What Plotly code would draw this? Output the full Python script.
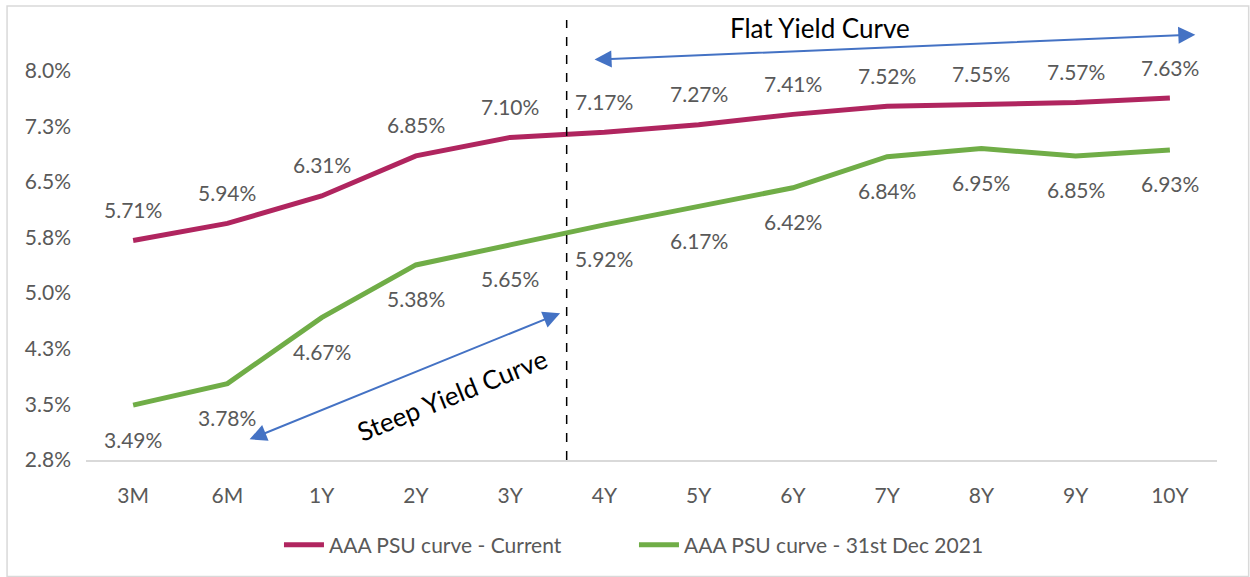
import plotly.graph_objects as go

categories = ["3M", "6M", "1Y", "2Y", "3Y", "4Y", "5Y", "6Y", "7Y", "8Y", "9Y", "10Y"]
current = [5.71, 5.94, 6.31, 6.85, 7.10, 7.17, 7.27, 7.41, 7.52, 7.55, 7.57, 7.63]
dec2021 = [3.49, 3.78, 4.67, 5.38, 5.65, 5.92, 6.17, 6.42, 6.84, 6.95, 6.85, 6.93]
y_tickvals = [2.75, 3.5, 4.25, 5.0, 5.75, 6.5, 7.25, 8.0]
y_ticktext = ["2.8%", "3.5%", "4.3%", "5.0%", "5.8%", "6.5%", "7.3%", "8.0%"]
name_current = "AAA PSU curve - Current"
name_dec = "AAA PSU curve - 31st Dec 2021"

RED = "#B0255F"
GREEN = "#70AD47"
BLUE = "#4472C4"
GRAY = "#595959"
FONT = "Lato"

fig = go.Figure()
fig.add_trace(go.Scatter(x=categories, y=current, mode="lines", name=name_current,
                         line=dict(color=RED, width=5)))
fig.add_trace(go.Scatter(x=categories, y=dec2021, mode="lines", name=name_dec,
                         line=dict(color=GREEN, width=5)))

ann = []
for c, v in zip(categories, current):
    ann.append(dict(x=c, y=v, text=f"{v:.2f}%", showarrow=False, yshift=31,
                    font=dict(family=FONT, size=21, color=GRAY)))
for c, v in zip(categories, dec2021):
    ann.append(dict(x=c, y=v, text=f"{v:.2f}%", showarrow=False, yshift=-34,
                    font=dict(family=FONT, size=21, color=GRAY)))

# Flat yield curve arrow (double headed)
ann.append(dict(x=11.27, y=8.485, ax=4.88, ay=8.148, xref="x", yref="y", axref="x", ayref="y",
                showarrow=True, arrowhead=2, startarrowhead=2, arrowside="end+start",
                arrowsize=1.7, startarrowsize=1.7, arrowwidth=2, arrowcolor=BLUE, text=""))
ann.append(dict(x=7.29, y=8.58, xref="x", yref="y", text="Flat Yield Curve", showarrow=False,
                font=dict(family=FONT, size=26, color="black")))
# Steep yield curve arrow
ann.append(dict(x=4.53, y=4.73, ax=1.22, ay=3.02, xref="x", yref="y", axref="x", ayref="y",
                showarrow=True, arrowhead=2, startarrowhead=2, arrowside="end+start",
                arrowsize=1.7, startarrowsize=1.7, arrowwidth=2, arrowcolor=BLUE, text=""))
ann.append(dict(x=3.38, y=3.63, xref="x", yref="y", text="Steep Yield Curve", showarrow=False,
                textangle=-22, font=dict(family=FONT, size=26, color="black")))

shapes = [
    dict(type="line", xref="x", yref="paper", x0=4.6, x1=4.6, y0=0, y1=0.989,
         line=dict(color="black", width=1.5, dash="dash")),
    dict(type="rect", xref="paper", yref="paper", x0=-0.0698, x1=1.028, y0=-0.262, y1=1.0202,
         line=dict(color="#D9D9D9", width=1.5), fillcolor="rgba(0,0,0,0)", layer="below"),
]

fig.update_layout(
    width=1250, height=577,
    margin=dict(l=86, r=33, t=15, b=117),
    paper_bgcolor="white", plot_bgcolor="white",
    font=dict(family=FONT, size=21, color=GRAY),
    showlegend=True,
    legend=dict(orientation="h", x=0.4845, xanchor="center", y=-0.191, yanchor="middle",
                font=dict(family=FONT, size=21, color=GRAY), itemwidth=40, entrywidth=300),
    annotations=ann,
    shapes=shapes,
    xaxis=dict(type="category", range=[-0.5, 11.5], showgrid=False, showline=True,
               linecolor="#D9D9D9", linewidth=1.5, ticks="", ticklabelstandoff=16,
               tickfont=dict(family=FONT, size=21, color=GRAY), zeroline=False),
    yaxis=dict(range=[2.75, 8.75], tickvals=y_tickvals, ticktext=y_ticktext, showgrid=False,
               showline=False, zeroline=False, ticks="", ticklabelstandoff=14,
               tickfont=dict(family=FONT, size=21, color=GRAY)),
)

fig.write_html("out.html")
